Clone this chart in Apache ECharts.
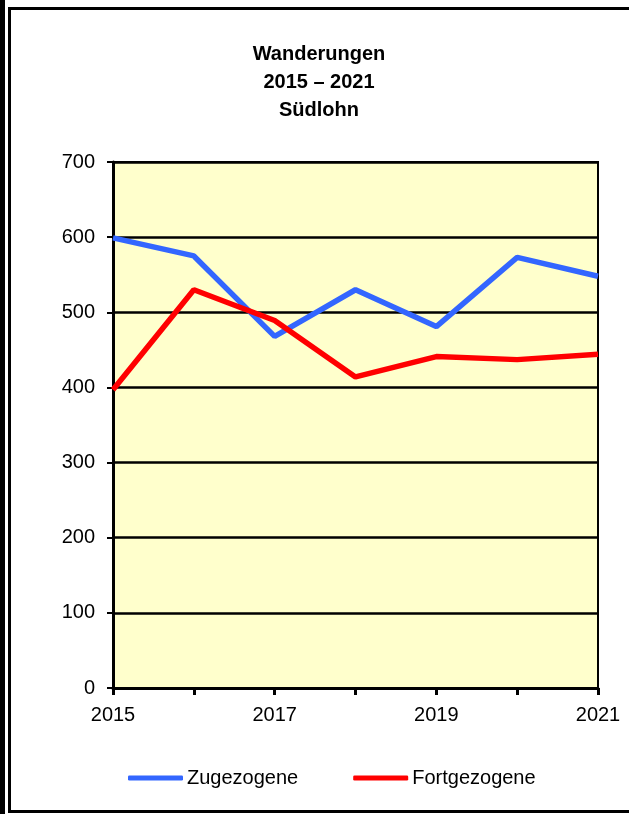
<!DOCTYPE html>
<html>
<head>
<meta charset="utf-8">
<script src="https://cdn.jsdelivr.net/npm/echarts@6/dist/echarts.min.js"></script>
<style>
html,body{margin:0;padding:0;background:#fff;}
#chart{width:629px;height:814px;}
</style>
</head>
<body>
<div id="chart"></div>
<script>
// Jahre und Wanderungszahlen für Südlohn
var years = ['2015', '2016', '2017', '2018', '2019', '2020', '2021'];
var zugezogene = [599, 575, 468, 530, 481, 573, 548];
var fortgezogene = [397, 530, 489, 414, 441, 437, 444];
var yTicks = { min: 0, max: 700, step: 100 };

var chart = echarts.init(document.getElementById('chart'));
chart.setOption({
  animation: false,
  backgroundColor: '#ffffff',
  textStyle: { fontFamily: 'Liberation Sans, Arial, sans-serif' },
  title: {
    text: 'Wanderungen\n2015 – 2021\nSüdlohn',
    left: 314,
    textAlign: 'center',
    top: 35,
    textStyle: { fontSize: 20, fontWeight: 'bold', color: '#000', lineHeight: 28 }
  },
  graphic: [
    { type: 'rect', shape: { x: 0, y: 0, width: 5, height: 814 }, style: { fill: '#000' } },
    { type: 'rect', shape: { x: 9.5, y: 8.5, width: 640, height: 803 }, style: { fill: 'none', stroke: '#000', lineWidth: 3 } }
  ],
  legend: {
    top: 768,
    left: 128,
    padding: 0,
    itemGap: 55,
    itemWidth: 55,
    itemHeight: 5,
    icon: 'roundRect',
    textStyle: { fontSize: 20, color: '#000', padding: [0, 0, 0, -1] },
    data: ['Zugezogene', 'Fortgezogene']
  },
  grid: {
    left: 113, right: 31, top: 162, bottom: 126,
    show: true,
    backgroundColor: '#ffffcc',
    borderColor: '#000',
    borderWidth: 2
  },
  xAxis: {
    type: 'category',
    data: years,
    boundaryGap: false,
    axisLine: { lineStyle: { color: '#000', width: 3 } },
    axisTick: { show: true, interval: 0, length: 7, lineStyle: { color: '#000', width: 3 } },
    axisLabel: { interval: 1, fontSize: 20, color: '#000', margin: 17 },
    splitLine: { show: false }
  },
  yAxis: {
    type: 'value',
    min: yTicks.min,
    max: yTicks.max,
    interval: yTicks.step,
    axisLine: { show: true, lineStyle: { color: '#000', width: 3 } },
    axisTick: { show: true, length: 6, lineStyle: { color: '#000', width: 2 } },
    axisLabel: { fontSize: 20, color: '#000', margin: 18 },
    splitLine: { show: true, lineStyle: { color: '#000', width: 2.5 } }
  },
  series: [
    {
      name: 'Zugezogene',
      type: 'line',
      data: zugezogene,
      symbol: 'none',
      color: '#3366ff',
      lineStyle: { width: 5.5, color: '#3366ff' },
      z: 2
    },
    {
      name: 'Fortgezogene',
      type: 'line',
      data: fortgezogene,
      symbol: 'none',
      color: '#ff0000',
      lineStyle: { width: 5.5, color: '#ff0000' },
      z: 3
    }
  ]
});
</script>
</body>
</html>
